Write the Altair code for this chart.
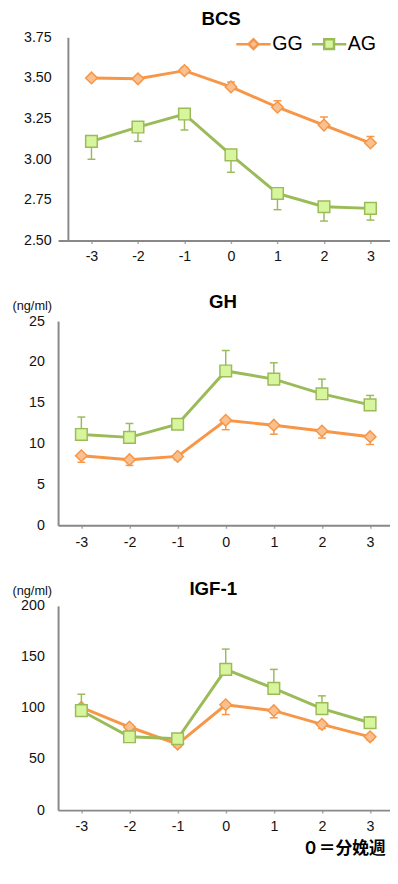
import altair as alt
import pandas as pd

weeks = [-3, -2, -1, 0, 1, 2, 3]
series_names = ["GG", "AG"]

# BCS
bcs_gg = [3.50, 3.495, 3.545, 3.445, 3.32, 3.21, 3.10]
bcs_gg_se = [0.01, 0.01, 0.02, 0.03, 0.04, 0.05, 0.04]
bcs_ag = [3.11, 3.198, 3.278, 3.027, 2.79, 2.708, 2.698]
bcs_ag_se = [0.11, 0.088, 0.098, 0.107, 0.10, 0.088, 0.072]
bcs_ticks = [2.5, 2.75, 3.0, 3.25, 3.5, 3.75]

# GH (ng/ml)
gh_gg = [8.52, 8.04, 8.44, 12.86, 12.26, 11.54, 10.85]
gh_gg_se = [0.8, 0.7, 0.4, 1.15, 1.1, 0.85, 0.95]
gh_ag = [11.13, 10.77, 12.38, 18.9, 17.9, 16.1, 14.75]
gh_ag_se = [2.13, 1.7, 0.5, 2.5, 2.0, 1.8, 1.15]
gh_ticks = [0, 5, 10, 15, 20, 25]

# IGF-1 (ng/ml)
igf_gg = [100.6, 81.4, 64.7, 103.2, 97.4, 84.0, 71.8]
igf_gg_se = [3, 3, 3, 9.6, 7, 4, 3]
igf_ag = [97.4, 71.8, 69.9, 137.8, 119.2, 99.4, 85.6]
igf_ag_se = [16.1, 2.2, 2.1, 19.9, 18.6, 12.5, 5.7]
igf_ticks = [0, 50, 100, 150, 200]

LINE = {"GG": "#F79646", "AG": "#9BBB59"}
FILL = {"GG": "#FAC090", "AG": "#D7F59C"}
SHAPE = {"GG": "diamond", "AG": "square"}
LEG_SHAPE = {
    "GG": "M-3.5,0L-1,0M-1,0L0,-1L1,0L0,1ZM1,0L3.5,0",
    "AG": "M-3.5,0L-1,0M-1,-1L1,-1L1,1L-1,1ZM1,0L3.5,0",
}
FONT = "Liberation Sans"
AXIS_COLOR = "#888888"


def panel(title, gg, gg_se, ag, ag_se, gg_dir, ag_dir, yticks, yfmt, xdomain,
          height, unit=None, unit_y=-12, xtitle=None, legend=False, title_dx=0,
          title_offset=9, yaxis_offset=0, label_pad=14, xlabel_pad=8):
    rows = []
    for s, vals, se, d in [("GG", gg, gg_se, gg_dir), ("AG", ag, ag_se, ag_dir)]:
        for w, v, e in zip(weeks, vals, se):
            rows.append({"week": w, "series": s, "value": v, "err_end": v + d * e})
    df = pd.DataFrame(rows)

    xaxis_kw = dict(values=weeks, labelExpr="'' + datum.value", grid=False,
                    ticks=True, tickSize=3, tickColor="#AAAAAA", tickWidth=1.5,
                    domainColor=AXIS_COLOR, domainWidth=2, labelFont=FONT,
                    labelFontSize=14.5, labelColor="#111111", labelPadding=xlabel_pad)
    if xtitle:
        xaxis_kw.update(title=xtitle, titleFont="Noto Sans CJK JP", titleFontSize=17,
                        titleFontWeight="bold", titleAlign="right", titleX=333,
                        titleY=44, titleBaseline="alphabetic", titleColor="#000000")
    xscale = alt.Scale(domain=xdomain, nice=False, zero=False)
    x = alt.X("week:Q", scale=xscale, axis=alt.Axis(**xaxis_kw),
              title=xtitle if xtitle else None)

    yaxis_kw = dict(values=yticks, format=yfmt, grid=False, ticks=False,
                    domainColor=AXIS_COLOR, domainWidth=2, labelFont=FONT,
                    labelFontSize=14.5, labelColor="#111111", labelPadding=label_pad,
                    offset=yaxis_offset)
    if unit:
        yaxis_kw.update(title=unit, titleAngle=0, titleAlign="left", titleX=-47,
                        titleY=unit_y, titleBaseline="alphabetic", titleFont=FONT,
                        titleFontSize=13, titleFontWeight="normal", titleColor="#111111")
    ydom = [yticks[0], yticks[-1]]
    yscale = alt.Scale(domain=ydom, nice=False, zero=False)
    y = alt.Y("value:Q", scale=yscale, axis=alt.Axis(**yaxis_kw),
              title=unit if unit else None)
    y_err = alt.Y("err_end:Q", scale=yscale, axis=alt.Axis(**yaxis_kw),
                  title=unit if unit else None)

    layers = []
    for s in series_names:
        base = alt.Chart(df).transform_filter(alt.datum.series == s)
        layers.append(base.mark_rule(strokeWidth=1.5, color=LINE[s]).encode(
            x=x, y=y, y2="err_end:Q"))
        layers.append(base.mark_tick(orient="horizontal", size=8, thickness=1.5,
                                     color=LINE[s], opacity=1).encode(x=x, y=y_err))
        layers.append(base.mark_line(strokeWidth=3, color=LINE[s]).encode(x=x, y=y))
        layers.append(base.mark_point(shape=SHAPE[s], filled=True, fill=FILL[s],
                                      stroke=LINE[s], strokeWidth=1.5, size=140,
                                      opacity=1).encode(x=x, y=y))
    if legend:
        ldf = pd.DataFrame({"series": series_names})
        leg = alt.Legend(orient="none", legendX=189, legendY=-3, direction="horizontal",
                         title=None, labelFont=FONT, labelFontSize=20,
                         labelColor="#000000", symbolSize=100, symbolStrokeWidth=2.5,
                         labelOffset=9, columnPadding=3, padding=0,
                         symbolOpacity=1)
        dom = series_names
        layers.append(alt.Chart(ldf).transform_filter("false").mark_point(
            filled=True, opacity=1, strokeWidth=2.5).encode(
            fill=alt.Fill("series:N", scale=alt.Scale(domain=dom, range=[FILL[s] for s in dom]), legend=leg),
            stroke=alt.Stroke("series:N", scale=alt.Scale(domain=dom, range=[LINE[s] for s in dom]), legend=leg),
            shape=alt.Shape("series:N", scale=alt.Scale(domain=dom, range=[LEG_SHAPE[s] for s in dom]), legend=leg),
        ))
    return alt.layer(*layers).properties(
        width=338, height=height,
        title=alt.TitleParams(title, font=FONT, fontSize=19, fontWeight="bold",
                              anchor="middle", offset=title_offset, dx=title_dx,
                              color="#000000"),
    )


p1 = panel("BCS", bcs_gg, bcs_gg_se, bcs_ag, bcs_ag_se, 1, -1, bcs_ticks, ".2f",
           [-3.718, 3.42], 207, legend=True, yaxis_offset=-10, label_pad=17,
           title_offset=1, title_dx=-3, xlabel_pad=6)
p2 = panel("GH", gh_gg, gh_gg_se, gh_ag, gh_ag_se, -1, 1, gh_ticks, "d",
           [-3.484, 3.414], 208, unit="(ng/ml)", title_offset=-13, title_dx=-1)
p3 = panel("IGF-1", igf_gg, igf_gg_se, igf_ag, igf_ag_se, -1, 1, igf_ticks, "d",
           [-3.484, 3.414], 208, unit="(ng/ml)", xtitle="０＝分娩週",
           title_offset=-15, title_dx=-11, xlabel_pad=7)

chart = alt.vconcat(p1, p2, p3, spacing=82, bounds="flush").properties(
    padding={"left": 4, "top": -6, "right": 0, "bottom": 0}
).configure(background="white", view=alt.ViewConfig(stroke=None))

chart.save("out.html", embed_options={"renderer": "svg", "actions": False})
